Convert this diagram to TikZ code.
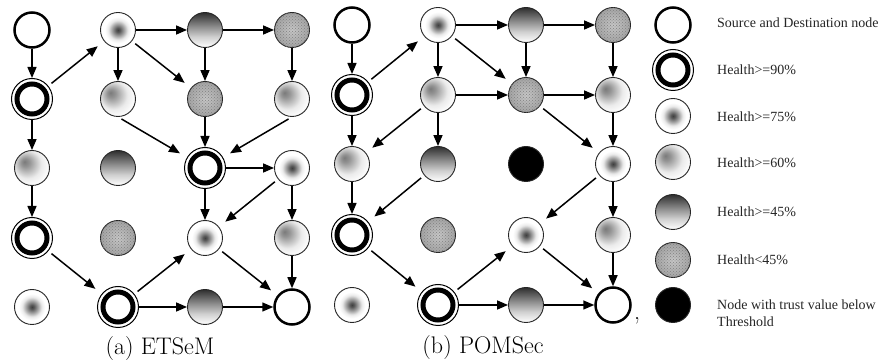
\documentclass[tikz,border=0pt]{standalone}
\usepackage{fontspec}
\newfontfamily\legfont{Liberation Serif}
\usetikzlibrary{arrows.meta,patterns}
\pgfdeclareradialshading{hsevfive}{\pgfpoint{0bp}{0bp}}{color(0bp)=(black!75); color(3bp)=(black!65); color(14bp)=(black!8); color(19bp)=(white); color(50bp)=(white)}
\pgfdeclareradialshading{hsixty}{\pgfpoint{-11bp}{9bp}}{color(0bp)=(black!52); color(6bp)=(black!42); color(20bp)=(black!8); color(30bp)=(white); color(50bp)=(white)}
\pgfdeclareverticalshading{hfortyfive}{100bp}{color(0bp)=(white); color(25bp)=(white); color(40bp)=(black!18); color(55bp)=(black!45); color(75bp)=(black!82); color(100bp)=(black!82)}
\pgfdeclareradialshading{hlowshade}{\pgfpoint{0bp}{0bp}}{color(0bp)=(black!22); color(25bp)=(black!36); color(50bp)=(black!36)}
\tikzset{
 nd/.style={circle, minimum size=35pt, inner sep=0pt, draw=black!85, line width=0.9pt},
 src/.style={circle, minimum size=35pt, inner sep=0pt, draw=black, line width=2.5pt, fill=white},
 hninety/.style={circle, minimum size=41pt, inner sep=0pt, draw=black, line width=1pt, fill=white,
   path picture={\draw[line width=5pt] (path picture bounding box.center) circle (15pt);}},
 hsf/.style={nd, shading=hsevfive},
 hsx/.style={nd, shading=hsixty},
 hff/.style={nd, shading=hfortyfive},
 hlow/.style={nd, shading=hlowshade, postaction={pattern=crosshatch dots, pattern color=black!50}},
 blk/.style={nd, fill=black},
 arr/.style={-{Triangle[length=11pt,width=9pt]}, line width=1.5pt},
 dia/.style={arr, shorten <=4pt, shorten >=8pt},
 captxt/.style={font=\fontsize{24}{28}\selectfont, inner sep=0pt},
 legtxt/.style={anchor=west, font=\legfont\fontsize{14}{17}\selectfont, text=black!85, inner sep=0pt, align=left}
}
\begin{document}
\begin{tikzpicture}[x=1pt,y=-1pt]
\fill[white] (0,0) rectangle (879,363);
\useasboundingbox (0,0) rectangle (879,363);
% ---------------- panel (a)
\node[src]     (a11) at (32,30)  {};
\node[hsf]     (a12) at (118,30) {};
\node[hff]     (a13) at (205,30) {};
\node[hlow]    (a14) at (292,30) {};
\node[hninety] (a21) at (32,99)  {};
\node[hsx]     (a22) at (118,99) {};
\node[hlow]    (a23) at (205,99) {};
\node[hsx]     (a24) at (292,99) {};
\node[hsx]     (a31) at (32,168) {};
\node[hff]     (a32) at (118,168) {};
\node[hninety] (a33) at (205,168) {};
\node[hsf]     (a34) at (292,168) {};
\node[hninety] (a41) at (32,238) {};
\node[hlow]    (a42) at (118,238) {};
\node[hsf]     (a43) at (205,238) {};
\node[hsx]     (a44) at (292,238) {};
\node[hsf]     (a51) at (32,307) {};
\node[hninety] (a52) at (118,307) {};
\node[hff]     (a53) at (205,307) {};
\node[src]     (a54) at (292,307) {};
\draw[arr] (a11) -- (a21);
\draw[dia] (a21) -- (a12);
\draw[arr] (a12) -- (a13);
\draw[arr] (a13) -- (a14);
\draw[arr] (a12) -- (a22);
\draw[dia] (a12) -- (a23);
\draw[arr] (a13) -- (a23);
\draw[arr] (a14) -- (a24);
\draw[arr] (a21) -- (a31);
\draw[dia] (a22.south) -- (a33);
\draw[arr] (a23) -- (a33);
\draw[dia] (a24.south) -- (a33);
\draw[arr] (a33) -- (a34);
\draw[arr] (a31) -- (a41);
\draw[arr] (a33) -- (a43);
\draw[dia] (a34) -- (a43);
\draw[arr] (a34) -- (a44);
\draw[dia] (a41) -- (a52);
\draw[dia] (a52) -- (a43);
\draw[dia] (a43) -- (a54);
\draw[arr] (a44) -- (a54);
\draw[arr] (a52) -- (a53);
\draw[arr] (a53) -- (a54);
\node[captxt] (capa) at (160,349) {(a) ETSeM};
% ---------------- panel (b)
\node[src]     (b11) at (352,25)  {};
\node[hsf]     (b12) at (438,25) {};
\node[hff]     (b13) at (526,25) {};
\node[hlow]    (b14) at (613,25) {};
\node[hninety] (b21) at (352,95)  {};
\node[hsx]     (b22) at (438,95) {};
\node[hlow]    (b23) at (526,95) {};
\node[hsx]     (b24) at (613,95) {};
\node[hsx]     (b31) at (352,164) {};
\node[hff]     (b32) at (438,164) {};
\node[blk]     (b33) at (526,164) {};
\node[hsf]     (b34) at (613,164) {};
\node[hninety] (b41) at (352,235) {};
\node[hlow]    (b42) at (438,235) {};
\node[hsf]     (b43) at (526,235) {};
\node[hsx]     (b44) at (613,235) {};
\node[hsf]     (b51) at (352,305) {};
\node[hninety] (b52) at (438,305) {};
\node[hff]     (b53) at (526,305) {};
\node[src]     (b54) at (613,305) {};
\draw[arr] (b11) -- (b21);
\draw[dia] (b21) -- (b12);
\draw[arr] (b12) -- (b13);
\draw[arr] (b13) -- (b14);
\draw[arr] (b12) -- (b22);
\draw[dia] (b12) -- (b23);
\draw[arr] (b13) -- (b23);
\draw[arr] (b14) -- (b24);
\draw[arr] (b22) -- (b23);
\draw[arr] (b23) -- (b24);
\draw[arr] (b21) -- (b31);
\draw[dia] (b22) -- (b31);
\draw[arr] (b22) -- (b32);
\draw[dia] (b23) -- (b34);
\draw[arr] (b24) -- (b34);
\draw[arr] (b31) -- (b41);
\draw[dia] (b32) -- (b41);
\draw[dia] (b34) -- (b43);
\draw[arr] (b34) -- (b44);
\draw[dia] (b41) -- (b52);
\draw[dia] (b52) -- (b43);
\draw[dia] (b43) -- (b54);
\draw[arr] (b44) -- (b54);
\draw[arr] (b52) -- (b53);
\draw[arr] (b53) -- (b54);
\node[captxt] (capb) at (483,348) {(b) POMSec};
\node[captxt] (comma) at (637,321) {,};
% ---------------- legend
\node[src]     (l1) at (673,25)  {};
\node[hninety] (l2) at (673,70)  {};
\node[hsf]     (l3) at (673,116) {};
\node[hsx]     (l4) at (673,162) {};
\node[hff]     (l5) at (673,212) {};
\node[hlow]    (l6) at (673,260) {};
\node[blk]     (l7) at (673,305) {};
\node[legtxt] (t1) at (717,23)  {Source and Destination node};
\node[legtxt] (t2) at (717,70)  {Health>=90\%};
\node[legtxt] (t3) at (717,117) {Health>=75\%};
\node[legtxt] (t4) at (717,163) {Health>=60\%};
\node[legtxt] (t5) at (717,212) {Health>=45\%};
\node[legtxt] (t6) at (717,260) {Health<45\%};
\node[legtxt] (t7) at (717,313) {Node with trust value below\\Threshold};
\end{tikzpicture}
\end{document}
